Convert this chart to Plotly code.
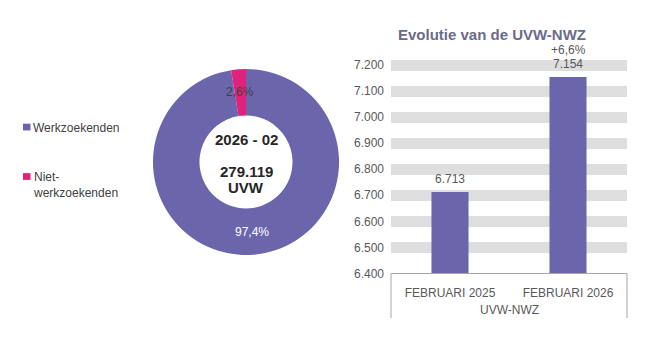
import math
import plotly.graph_objects as go

# ---------------- data ----------------
pie_labels = ["Werkzoekenden", "Niet-werkzoekenden"]
legend_texts = ["Werkzoekenden", "Niet-<br>werkzoekenden"]
pie_values = [271965, 7154]
pie_colors = ["#6B66AC", "#E0237A"]
period_label = "2026 - 02"
total_unit = "UVW"

bar_title = "Evolutie van de UVW-NWZ"
bar_group = "UVW-NWZ"
bar_categories = ["FEBRUARI 2025", "FEBRUARI 2026"]
bar_values = [6713, 7154]
y_ticks = [6400, 6500, 6600, 6700, 6800, 6900, 7000, 7100, 7200]

W, H = 650, 356
FONT = "Arial, Liberation Sans, sans-serif"
TXT = "#595959"
AXIS_GRAY = "#A6A6A6"


def nl_int(n):
    return f"{n:,}".replace(",", ".")


def nl_pct(p, sign=False):
    s = f"{p:+.1f}" if sign else f"{p:.1f}"
    return s.replace(".", ",") + "%"


def py(px):
    return 1 - px / H


total = sum(pie_values)
pcts = [v / total * 100 for v in pie_values]

fig = go.Figure()

# ---------------- donut ----------------
cx_px, cy_px, r_px = 246, 163, 96
dom_x = [(cx_px - r_px) / W, (cx_px + r_px) / W]
dom_y = [py(cy_px + r_px), py(cy_px - r_px)]

fig.add_trace(go.Pie(
    labels=pie_labels, values=pie_values, hole=0.5, sort=False,
    direction="clockwise", rotation=0,
    marker=dict(colors=pie_colors, line=dict(width=0)),
    textinfo="none", hoverinfo="label+percent+value",
    domain=dict(x=dom_x, y=dom_y), showlegend=False,
))

# percentage labels at mid-ring of each slice (angles from data)
cum = 0.0
ring_r = r_px * 0.75
label_colors = ["#FFFFFF", "#404040"]
for v, p, col in zip(pie_values, pcts, label_colors):
    mid = (cum + v / 2) / total
    cum += v
    ang = 2 * math.pi * mid
    dx = ring_r * math.sin(ang)
    dy = ring_r * math.cos(ang)
    fig.add_annotation(
        x=(cx_px + dx) / W, y=py(cy_px - dy), xref="paper", yref="paper",
        text=nl_pct(p), showarrow=False, font=dict(size=12, color=col, family=FONT),
        xanchor="center", yanchor="middle",
    )

# centre text
for txt, ypx in [(period_label, 140), (nl_int(total), 173), (total_unit, 189)]:
    fig.add_annotation(x=cx_px / W, y=py(ypx), xref="paper", yref="paper",
                       text=f"<b>{txt}</b>", showarrow=False,
                       xanchor="center", yanchor="middle",
                       font=dict(size=15, color="#262626", family=FONT))

# legend (left)
leg_y = [127, 178]
for txt, col, ly in zip(legend_texts, pie_colors, leg_y):
    fig.add_shape(type="rect", xref="paper", yref="paper",
                  x0=23 / W, x1=30.5 / W, y0=py(ly + 3.5), y1=py(ly - 3.5),
                  fillcolor=col, line=dict(width=0))
    fig.add_annotation(x=31 / W, y=py(ly - 8.5), xref="paper", yref="paper",
                       text=txt, showarrow=False, align="left",
                       xanchor="left", yanchor="top",
                       font=dict(size=12, color="#404040", family=FONT))

# ---------------- bar chart ----------------
fig.add_trace(go.Bar(
    x=bar_categories, y=bar_values,
    marker=dict(color=pie_colors[0], line=dict(width=0)),
    showlegend=False, xaxis="x", yaxis="y",
    hovertemplate="%{x}: %{y:,d}<extra></extra>",
))

# value labels above bars
for cat, val in zip(bar_categories, bar_values):
    fig.add_annotation(x=cat, y=val, xref="x", yref="y", text=nl_int(val),
                       showarrow=False, yanchor="bottom", yshift=4,
                       font=dict(size=12, color=TXT, family=FONT))
change = (bar_values[1] - bar_values[0]) / bar_values[0] * 100
fig.add_annotation(x=bar_categories[1], y=bar_values[1], xref="x", yref="y",
                   text=nl_pct(change, sign=True), showarrow=False,
                   yanchor="bottom", yshift=18,
                   font=dict(size=12, color=TXT, family=FONT))

# group label and box lines under the category axis
fig.add_annotation(x=0.5, y=py(316), xref="x domain", yref="paper",
                   text=bar_group, showarrow=False, yanchor="middle",
                   font=dict(size=12, color=TXT, family=FONT))
for xd in (0, 1):
    fig.add_shape(type="line", xref="x domain", yref="paper",
                  x0=xd, x1=xd, y0=py(278), y1=py(324),
                  line=dict(color=AXIS_GRAY, width=1))

px_per_unit = (278 - 63) / (y_ticks[-1] - y_ticks[0])
y_top = y_ticks[-1] + 10
fig.update_layout(
    width=W, height=H, margin=dict(l=0, r=0, t=0, b=0),
    paper_bgcolor="white", plot_bgcolor="white",
    font=dict(family=FONT, color=TXT, size=12),
    separators=",.",
    bargap=0.686,
    title=dict(text=f"<b>{bar_title}</b>", x=492 / W, y=py(35),
               xanchor="center", yanchor="middle",
               font=dict(size=15, color="#6B6B8B", family=FONT)),
    xaxis=dict(domain=[391 / W, 627 / W], type="category",
               showline=True, linecolor=AXIS_GRAY, linewidth=1,
               ticks="", ticklabelstandoff=8,
               tickfont=dict(size=12, color=TXT), showgrid=False),
    yaxis=dict(domain=[py(278), py(63 - 10 * px_per_unit)],
               range=[y_ticks[0], y_top],
               tickmode="array", tickvals=y_ticks, tickformat=",d",
               showgrid=True, gridcolor="#DEDEDE", gridwidth=11,
               zeroline=False, showline=False, ticks="",
               ticklabelstandoff=6,
               tickfont=dict(size=12, color=TXT)),
)

fig.write_html("out.html", post_script="document.body.style.margin='0';",
               config={"displayModeBar": False})
